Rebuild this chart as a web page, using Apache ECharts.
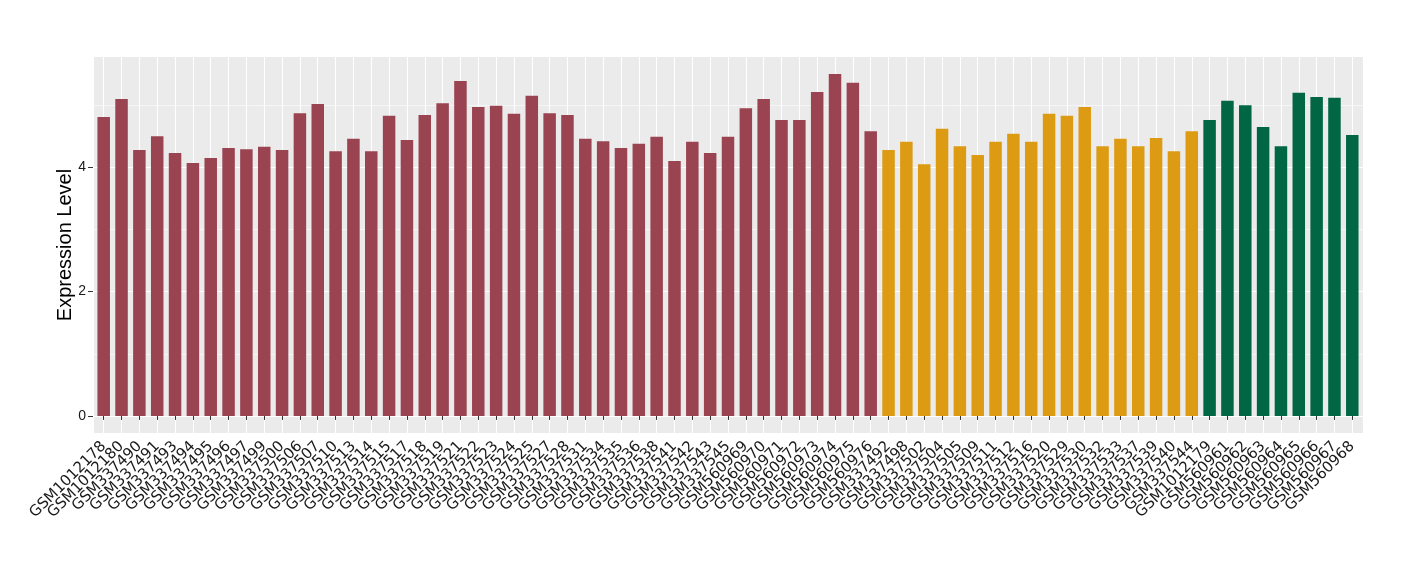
<!DOCTYPE html>
<html>
<head>
<meta charset="utf-8">
<script src="https://cdn.jsdelivr.net/npm/echarts@6/dist/echarts.min.js"></script>
<style>
html,body{margin:0;padding:0;background:#fff;}
#chart{width:1420px;height:580px;}
</style>
</head>
<body>
<div id="chart"></div>
<script>
const categories = [
  "GSM1012178","GSM1012180","GSM337490","GSM337491","GSM337493","GSM337494","GSM337495","GSM337496","GSM337497","GSM337499",
  "GSM337500","GSM337506","GSM337507","GSM337510","GSM337513","GSM337514","GSM337515","GSM337517","GSM337518","GSM337519",
  "GSM337521","GSM337522","GSM337523","GSM337524","GSM337525","GSM337527","GSM337528","GSM337531","GSM337534","GSM337535",
  "GSM337536","GSM337538","GSM337541","GSM337542","GSM337543","GSM337545","GSM560969","GSM560970","GSM560971","GSM560972",
  "GSM560973","GSM560974","GSM560975","GSM560976",
  "GSM337492","GSM337498","GSM337502","GSM337504","GSM337505","GSM337509","GSM337511","GSM337512","GSM337516","GSM337520",
  "GSM337529","GSM337530","GSM337532","GSM337533","GSM337537","GSM337539","GSM337540","GSM337544",
  "GSM1012179","GSM560961","GSM560962","GSM560963","GSM560964","GSM560965","GSM560966","GSM560967","GSM560968"
];
const values = [
  4.81,5.10,4.28,4.50,4.23,4.07,4.15,4.31,4.29,4.33,
  4.28,4.87,5.02,4.26,4.46,4.26,4.83,4.44,4.84,5.03,
  5.39,4.97,4.99,4.86,5.15,4.87,4.84,4.46,4.42,4.31,
  4.38,4.49,4.10,4.41,4.23,4.49,4.95,5.10,4.76,4.76,
  5.21,5.50,5.36,4.58,
  4.28,4.41,4.05,4.62,4.34,4.20,4.41,4.54,4.41,4.86,
  4.83,4.97,4.34,4.46,4.34,4.47,4.26,4.58,
  4.76,5.07,5.00,4.65,4.34,5.20,5.13,5.12,4.52
];
const groupSizes = [44, 18, 9];
const groupColors = ["#9A4351", "#DD9B14", "#006644"];
const yMajorTicks = [0, 2, 4];
const yMinorTicks = [1, 3, 5];

const X_MIN = 0.4, X_MAX = categories.length + 0.6;
const groupOf = [];
groupSizes.forEach((n, g) => { for (let i = 0; i < n; i++) groupOf.push(g); });
// positions 1..N, plus the panel edges as placeholders (hidden via showMin/MaxLabel:false)
const xTicks = [X_MIN].concat(categories.map((c, i) => i + 1), [X_MAX]);
const barData = values.map((v, i) => [i + 1, v]);

const chart = echarts.init(document.getElementById('chart'));
const font = 'Liberation Sans, Arial, Helvetica, sans-serif';
chart.setOption({
  animation: false,
  backgroundColor: '#ffffff',
  grid: {left: 93, right: 57, top: 57, bottom: 147, show: true, backgroundColor: '#EBEBEB', borderWidth: 0, containLabel: false},
  xAxis: {
    type: 'value', min: X_MIN, max: X_MAX,
    axisLine: {show: false},
    axisTick: {show: true, customValues: xTicks, length: 4, lineStyle: {color: '#333', width: 1}},
    axisLabel: {customValues: xTicks, rotate: 45, margin: 11, fontSize: 15, fontFamily: 'DejaVu Sans', color: '#1a1a1a',
      showMinLabel: false, showMaxLabel: false, hideOverlap: false,
      formatter: v => {
        const k = Math.round(v);
        return Math.abs(v - k) < 1e-6 ? (categories[k - 1] || '') : ' ';
      }},
    splitLine: {show: true, lineStyle: {color: '#ffffff', width: 1.1}}
  },
  yAxis: [{
    type: 'value', min: -0.275, max: 5.775,
    name: 'Expression Level', nameLocation: 'middle', nameGap: 18, nameMoveOverlap: false,
    nameTextStyle: {fontSize: 20, fontFamily: font, color: '#000'},
    axisLine: {show: false},
    axisTick: {show: true, customValues: yMajorTicks, length: 5, lineStyle: {color: '#333'}},
    axisLabel: {customValues: yMajorTicks, fontSize: 14, fontFamily: font, color: '#1a1a1a', margin: 7},
    splitLine: {show: true, lineStyle: {color: '#ffffff', width: 1.1}}
  }, {
    type: 'value', min: -0.275, max: 5.775, position: 'left',
    axisLine: {show: false},
    axisTick: {show: false, customValues: yMinorTicks},
    axisLabel: {show: false, customValues: yMinorTicks},
    splitLine: {show: true, lineStyle: {color: '#ffffff', width: 0.55}}
  }],
  series: [{
    type: 'bar',
    yAxisIndex: 0,
    data: barData,
    barWidth: 12.5,
    itemStyle: {color: p => groupColors[groupOf[p.dataIndex]]}
  }]
});
</script>
</body>
</html>
